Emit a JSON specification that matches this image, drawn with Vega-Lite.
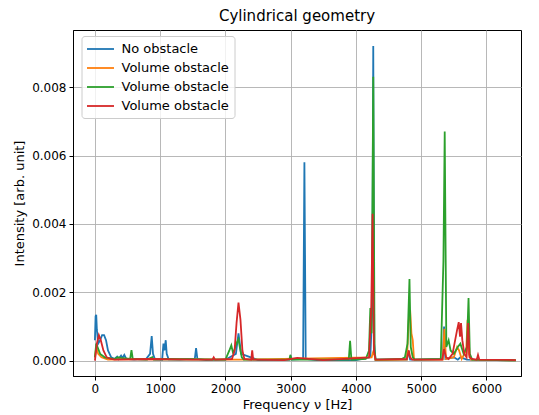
{
  "$schema": "https://vega.github.io/schema/vega-lite/v6.json",
  "width": 448,
  "height": 346,
  "autosize": {"type": "none"},
  "padding": {"left": 73, "top": 30, "right": 18, "bottom": 39},
  "title": {"text": "Cylindrical geometry", "fontSize": 15, "font": "DejaVu Sans", "fontWeight": "normal", "color": "black", "offset": 6},
  "config": {
    "font": "DejaVu Sans",
    "view": {"stroke": "black", "strokeWidth": 1},
    "axis": {
      "domainColor": "black", "tickColor": "black", "tickSize": 4, "labelPadding": 3,
      "labelFontSize": 12, "titleFontSize": 13, "titleFontWeight": "normal",
      "labelColor": "black", "titleColor": "black", "labelFont": "DejaVu Sans", "titleFont": "DejaVu Sans",
      "grid": true, "gridColor": "#b0b0b0", "gridWidth": 0.9, "gridOpacity": 1
    }
  },
  "data": {"values": [
    {"s":"A","f":0,"y":0.0006},{"s":"A","f":10,"y":0.0013},{"s":"A","f":20,"y":0.00134},{"s":"A","f":30,"y":0.0009},{"s":"A","f":50,"y":0.0005},{"s":"A","f":80,"y":0.0006},{"s":"A","f":110,"y":0.00075},{"s":"A","f":140,"y":0.00075},{"s":"A","f":170,"y":0.0006},{"s":"A","f":200,"y":0.0003},{"s":"A","f":250,"y":0.0001},{"s":"A","f":300,"y":0.00005},{"s":"A","f":340,"y":0.00012},{"s":"A","f":360,"y":0.00005},{"s":"A","f":400,"y":0.00015},{"s":"A","f":420,"y":0.00008},{"s":"A","f":450,"y":0.00017},{"s":"A","f":480,"y":0.00005},{"s":"A","f":600,"y":0.00003},{"s":"A","f":700,"y":0.00005},{"s":"A","f":780,"y":0.00004},{"s":"A","f":845,"y":0.0002},{"s":"A","f":870,"y":0.00072},{"s":"A","f":890,"y":0.0002},{"s":"A","f":920,"y":0.00004},{"s":"A","f":1030,"y":0.00003},{"s":"A","f":1050,"y":0.0005},{"s":"A","f":1065,"y":0.0003},{"s":"A","f":1085,"y":0.0006},{"s":"A","f":1100,"y":0.0002},{"s":"A","f":1130,"y":0.00004},{"s":"A","f":1300,"y":0.00003},{"s":"A","f":1400,"y":0.00005},{"s":"A","f":1530,"y":0.00005},{"s":"A","f":1550,"y":0.00037},{"s":"A","f":1570,"y":0.00005},{"s":"A","f":1700,"y":0.00002},{"s":"A","f":2000,"y":0.00003},{"s":"A","f":2160,"y":0.0002},{"s":"A","f":2200,"y":0.0008},{"s":"A","f":2240,"y":0.0002},{"s":"A","f":2500,"y":0.00002},{"s":"A","f":2980,"y":0.00003},{"s":"A","f":3000,"y":0.00012},{"s":"A","f":3020,"y":0.00003},{"s":"A","f":3190,"y":0.00005},{"s":"A","f":3210,"y":0.0058},{"s":"A","f":3230,"y":0.00005},{"s":"A","f":3400,"y":0.00002},{"s":"A","f":4000,"y":0.00002},{"s":"A","f":4220,"y":0.0001},{"s":"A","f":4250,"y":0.0015},{"s":"A","f":4265,"y":0.0092},{"s":"A","f":4280,"y":0.0005},{"s":"A","f":4300,"y":0.00003},{"s":"A","f":4780,"y":0.00003},{"s":"A","f":4800,"y":0.0003},{"s":"A","f":4830,"y":0.00003},{"s":"A","f":5330,"y":0.00005},{"s":"A","f":5350,"y":0.001},{"s":"A","f":5370,"y":0.00005},{"s":"A","f":5500,"y":0.0001},{"s":"A","f":5560,"y":0.00003},{"s":"A","f":5600,"y":0.0001},{"s":"A","f":5700,"y":0.00003},{"s":"A","f":6450,"y":0.00001},

    {"s":"B","f":0,"y":0.0001},{"s":"B","f":20,"y":0.0004},{"s":"B","f":50,"y":0.0002},{"s":"B","f":100,"y":0.0001},{"s":"B","f":200,"y":0.00003},{"s":"B","f":550,"y":0.00005},{"s":"B","f":2200,"y":0.00003},{"s":"B","f":4240,"y":0.0001},{"s":"B","f":4270,"y":0.0003},{"s":"B","f":4300,"y":0.00002},{"s":"B","f":4780,"y":0.00003},{"s":"B","f":4810,"y":0.0012},{"s":"B","f":4830,"y":0.00148},{"s":"B","f":4850,"y":0.0008},{"s":"B","f":4870,"y":0.0006},{"s":"B","f":4890,"y":0.00003},{"s":"B","f":5330,"y":0.00003},{"s":"B","f":5355,"y":0.00093},{"s":"B","f":5380,"y":0.00005},{"s":"B","f":5500,"y":0.0001},{"s":"B","f":5550,"y":0.0004},{"s":"B","f":5580,"y":0.0003},{"s":"B","f":5620,"y":0.00005},{"s":"B","f":5690,"y":0.0003},{"s":"B","f":5710,"y":0.0012},{"s":"B","f":5730,"y":0.0002},{"s":"B","f":5760,"y":0.00003},{"s":"B","f":6450,"y":0.00001},

    {"s":"C","f":0,"y":0.0001},{"s":"C","f":20,"y":0.0005},{"s":"C","f":40,"y":0.0004},{"s":"C","f":80,"y":0.0002},{"s":"C","f":150,"y":0.0001},{"s":"C","f":300,"y":0.00005},{"s":"C","f":350,"y":0.0001},{"s":"C","f":400,"y":0.00008},{"s":"C","f":540,"y":0.00005},{"s":"C","f":560,"y":0.00031},{"s":"C","f":580,"y":0.00005},{"s":"C","f":800,"y":0.00003},{"s":"C","f":880,"y":0.0001},{"s":"C","f":900,"y":0.00003},{"s":"C","f":1100,"y":0.00005},{"s":"C","f":2000,"y":0.00003},{"s":"C","f":2060,"y":0.0003},{"s":"C","f":2090,"y":0.00045},{"s":"C","f":2120,"y":0.0002},{"s":"C","f":2150,"y":0.0004},{"s":"C","f":2180,"y":0.00055},{"s":"C","f":2200,"y":0.00063},{"s":"C","f":2220,"y":0.0004},{"s":"C","f":2250,"y":0.0001},{"s":"C","f":2280,"y":0.00003},{"s":"C","f":2980,"y":0.00003},{"s":"C","f":2995,"y":0.00017},{"s":"C","f":3010,"y":0.00003},{"s":"C","f":3890,"y":0.00003},{"s":"C","f":3910,"y":0.00058},{"s":"C","f":3930,"y":0.00003},{"s":"C","f":4150,"y":0.00005},{"s":"C","f":4200,"y":0.0003},{"s":"C","f":4220,"y":0.00154},{"s":"C","f":4240,"y":0.0008},{"s":"C","f":4265,"y":0.0083},{"s":"C","f":4285,"y":0.0003},{"s":"C","f":4300,"y":0.00003},{"s":"C","f":4700,"y":0.00005},{"s":"C","f":4750,"y":0.0001},{"s":"C","f":4790,"y":0.0005},{"s":"C","f":4820,"y":0.00239},{"s":"C","f":4840,"y":0.0004},{"s":"C","f":4870,"y":0.0001},{"s":"C","f":4900,"y":0.00003},{"s":"C","f":5300,"y":0.00005},{"s":"C","f":5340,"y":0.0029},{"s":"C","f":5360,"y":0.0067},{"s":"C","f":5385,"y":0.0004},{"s":"C","f":5420,"y":0.0006},{"s":"C","f":5450,"y":0.0003},{"s":"C","f":5500,"y":0.0002},{"s":"C","f":5560,"y":0.0004},{"s":"C","f":5600,"y":0.0005},{"s":"C","f":5650,"y":0.0002},{"s":"C","f":5700,"y":0.0004},{"s":"C","f":5725,"y":0.00183},{"s":"C","f":5745,"y":0.0002},{"s":"C","f":5780,"y":0.00003},{"s":"C","f":6450,"y":0.00001},

    {"s":"D","f":0,"y":0.0},{"s":"D","f":30,"y":0.0005},{"s":"D","f":60,"y":0.00075},{"s":"D","f":90,"y":0.0006},{"s":"D","f":130,"y":0.0003},{"s":"D","f":180,"y":0.0001},{"s":"D","f":250,"y":0.00005},{"s":"D","f":300,"y":0.00003},{"s":"D","f":850,"y":0.00005},{"s":"D","f":1500,"y":0.00003},{"s":"D","f":1800,"y":0.00003},{"s":"D","f":1820,"y":0.0001},{"s":"D","f":1840,"y":0.00003},{"s":"D","f":2100,"y":0.00005},{"s":"D","f":2140,"y":0.0003},{"s":"D","f":2170,"y":0.0011},{"s":"D","f":2200,"y":0.0017},{"s":"D","f":2230,"y":0.0012},{"s":"D","f":2260,"y":0.0003},{"s":"D","f":2290,"y":0.00005},{"s":"D","f":2395,"y":0.00003},{"s":"D","f":2410,"y":0.0003},{"s":"D","f":2425,"y":0.00003},{"s":"D","f":2900,"y":0.00002},{"s":"D","f":3100,"y":0.00008},{"s":"D","f":3500,"y":0.00002},{"s":"D","f":4200,"y":0.0001},{"s":"D","f":4235,"y":0.0016},{"s":"D","f":4255,"y":0.0043},{"s":"D","f":4275,"y":0.0003},{"s":"D","f":4300,"y":0.00003},{"s":"D","f":4780,"y":0.00005},{"s":"D","f":4810,"y":0.0003},{"s":"D","f":4830,"y":0.0001},{"s":"D","f":4860,"y":0.00003},{"s":"D","f":5320,"y":0.00003},{"s":"D","f":5350,"y":0.00034},{"s":"D","f":5380,"y":0.0001},{"s":"D","f":5420,"y":0.00005},{"s":"D","f":5480,"y":0.0002},{"s":"D","f":5520,"y":0.0006},{"s":"D","f":5550,"y":0.0009},{"s":"D","f":5575,"y":0.00113},{"s":"D","f":5595,"y":0.0007},{"s":"D","f":5610,"y":0.0011},{"s":"D","f":5630,"y":0.0006},{"s":"D","f":5660,"y":0.0002},{"s":"D","f":5695,"y":0.0001},{"s":"D","f":5720,"y":0.0011},{"s":"D","f":5740,"y":0.0001},{"s":"D","f":5780,"y":0.00005},{"s":"D","f":5850,"y":0.00003},{"s":"D","f":5870,"y":0.00017},{"s":"D","f":5890,"y":0.00003},{"s":"D","f":6450,"y":0.00002}
  ]},
  "mark": {"type": "line", "strokeWidth": 1.8, "clip": true},
  "encoding": {
    "x": {
      "field": "f", "type": "quantitative",
      "scale": {"domain": [-336, 6529], "nice": false, "zero": false},
      "axis": {"values": [0, 1000, 2000, 3000, 4000, 5000, 6000], "format": "d", "title": "Frequency ν [Hz]", "labelFlush": false, "titlePadding": 4}
    },
    "y": {
      "field": "y", "type": "quantitative",
      "scale": {"domain": [-0.000447, 0.00967], "nice": false, "zero": false},
      "axis": {"values": [0, 0.002, 0.004, 0.006, 0.008], "format": ".3f", "title": "Intensity [arb. unit]", "titlePadding": 5}
    },
    "color": {
      "field": "s", "type": "nominal",
      "scale": {"domain": ["A", "B", "C", "D"], "range": ["#1f77b4", "#ff7f0e", "#2ca02c", "#d62728"]},
      "legend": {
        "title": null, "orient": "none", "legendX": 8.5, "legendY": 6,
        "labelExpr": "datum.value == 'A' ? 'No obstacle' : 'Volume obstacle'",
        "symbolType": "M-2,0H2", "symbolSize": 182, "symbolStrokeWidth": 1.8, "symbolOffset": 6,
        "labelFontSize": 13, "labelColor": "black", "labelFont": "DejaVu Sans", "labelOffset": 13,
        "rowPadding": 4, "padding": 5,
        "fillColor": "rgba(255,255,255,0.8)", "strokeColor": "#cccccc", "cornerRadius": 3
      }
    }
  }
}
